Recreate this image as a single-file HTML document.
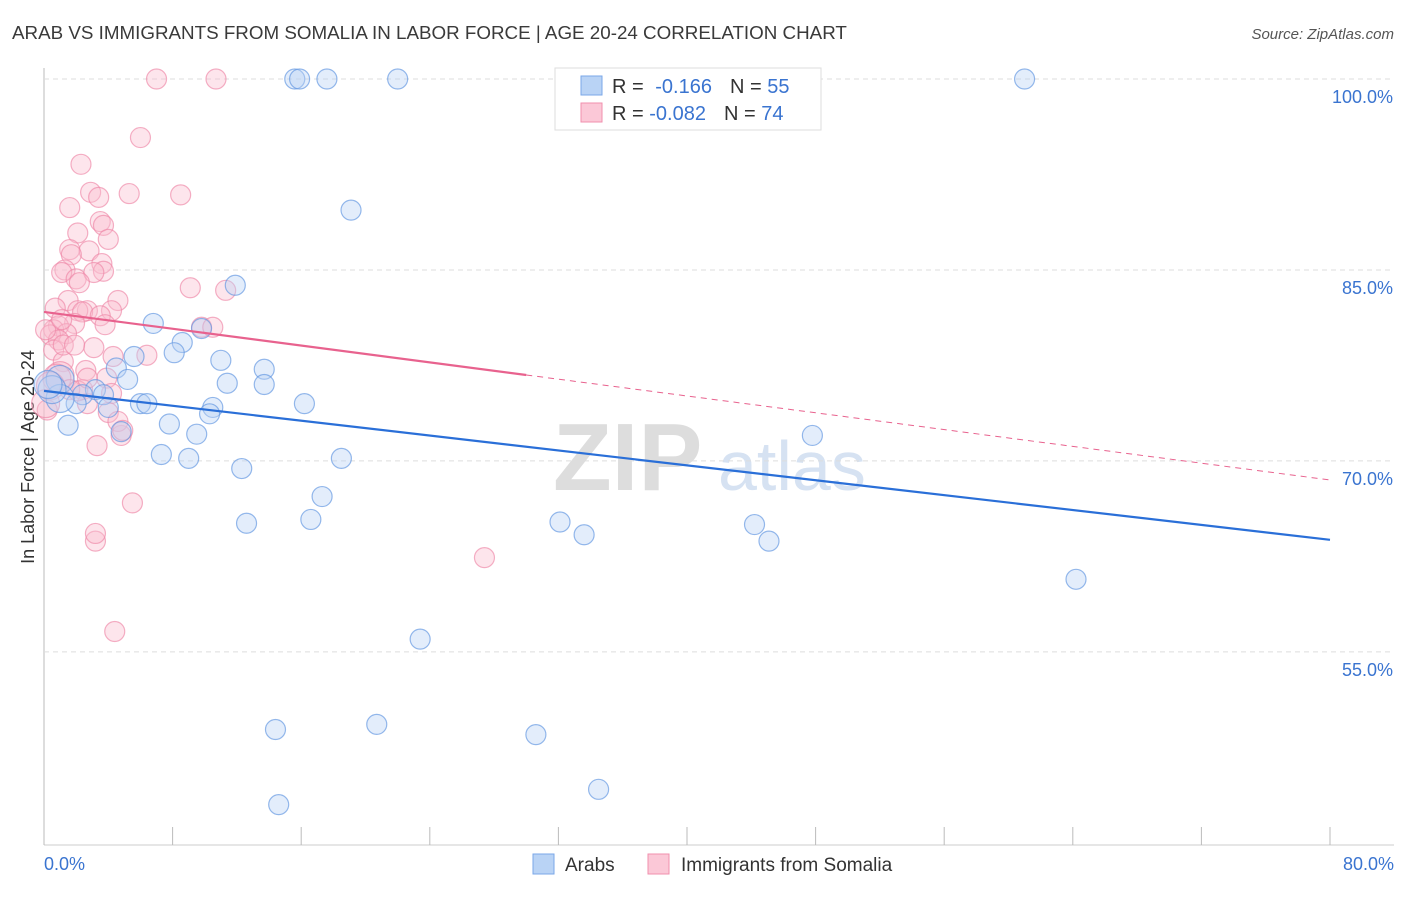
<!DOCTYPE html>
<html><head><meta charset="utf-8"><style>
body{margin:0;background:#fff;font-family:"Liberation Sans",sans-serif}
svg text{font-family:"Liberation Sans",sans-serif}
</style></head><body>
<svg id="c" width="1406" height="892">
<text x="12" y="39" font-size="18.8" fill="#3a3a3a">ARAB VS IMMIGRANTS FROM SOMALIA IN LABOR FORCE | AGE 20-24 CORRELATION CHART</text>
<text x="1394" y="39" font-size="15" fill="#555" text-anchor="end" font-style="italic">Source: ZipAtlas.com</text>
<text x="34" y="457" font-size="18" fill="#333" text-anchor="middle" transform="rotate(-90 34 457)">In Labor Force | Age 20-24</text>
<g><text x="553" y="490" font-size="96" fill="#ddd" font-family="Liberation Serif" font-weight="bold">ZIP</text><text x="718" y="490" font-size="70" fill="#d6e2f2">atlas</text></g>
<g id="grid"></g><g id="marks"></g><g id="lines"></g>
<g>
<rect x="555" y="68" width="266" height="62" fill="#fff" stroke="#ddd"/>
<rect x="581" y="76" width="21" height="19" fill="#b9d3f5" stroke="#7aa7e8"/>
<rect x="581" y="103" width="21" height="19" fill="#fbc8d7" stroke="#f08fae"/>
<text x="612" y="93" font-size="20" fill="#333">R = <tspan fill="#3a74d0" dx="6">-0.166</tspan><tspan dx="18" fill="#333">N = </tspan><tspan fill="#3a74d0">55</tspan></text>
<text x="612" y="120" font-size="20" fill="#333">R = <tspan fill="#3a74d0">-0.082</tspan><tspan dx="18" fill="#333">N = </tspan><tspan fill="#3a74d0"> 74</tspan></text>
</g>
<g>
<rect x="533" y="854" width="21" height="20" fill="#b9d3f5" stroke="#7aa7e8"/>
<text x="565" y="871" font-size="19" fill="#333">Arabs</text>
<rect x="648" y="854" width="21" height="20" fill="#fbc8d7" stroke="#f08fae"/>
<text x="681" y="871" font-size="19" fill="#333">Immigrants from Somalia</text>
</g>
</svg>
<script>
const yTicks=[100,85,70,55];
const yTickLabels=["100.0%","85.0%","70.0%","55.0%"];
const xTickVals=[0,8,16,24,32,40,48,56,64,72,80];
const blueX=[15.6,15.9,17.6,22.0,61.0,19.1,11.9,6.8,9.8,8.6,8.1,5.6,11.0,4.5,13.7,5.2,11.4,13.7,1.0,3.2,2.4,3.7,2.0,6.0,6.4,4.0,16.2,10.5,10.3,1.0,1.5,4.8,7.8,9.5,47.8,7.3,9.0,18.5,12.3,17.3,12.6,16.6,32.1,33.6,44.2,45.1,64.2,23.4,14.4,20.7,30.6,14.6,34.5,0.5,0.25];
const blueY=[100,100,100,100,100,89.7,83.8,80.8,80.4,79.3,78.5,78.2,77.9,77.3,77.2,76.4,76.1,76.0,76.4,75.6,75.2,75.2,74.5,74.5,74.5,74.2,74.5,74.2,73.7,74.9,72.8,72.3,72.9,72.1,72.0,70.5,70.2,70.2,69.4,67.2,65.1,65.4,65.2,64.2,65.0,63.7,60.7,56.0,48.9,49.3,48.5,43.0,44.2,75.6,76.0];
const pinkX=[7.0,10.7,6.0,2.3,2.9,5.3,8.5,1.6,3.4,3.5,3.7,2.1,4.0,2.8,1.6,1.7,3.6,1.3,1.1,2.0,3.7,3.1,2.2,9.1,11.3,4.6,1.5,0.7,2.7,2.1,2.4,4.2,3.5,1.9,0.9,0.6,9.8,10.5,3.8,1.4,0.4,0.9,3.1,0.6,4.3,6.4,1.2,2.6,1.0,0.8,3.9,0.4,2.4,4.2,2.7,4.0,0.2,4.8,3.3,4.6,5.5,3.2,3.2,27.4,4.4,1.6,2.1,0.1,1.2,0.1,1.1,2.7,1.9,4.9];
const pinkY=[100,100,95.4,93.3,91.1,91.0,90.9,89.9,90.7,88.8,88.5,87.9,87.4,86.5,86.6,86.2,85.5,85.0,84.8,84.3,84.9,84.8,84.0,83.6,83.4,82.6,82.6,82.0,81.8,81.8,81.7,81.8,81.4,80.8,80.6,80.3,80.5,80.5,80.7,80.0,79.9,79.5,78.9,78.7,78.2,78.3,77.8,77.1,76.7,76.5,76.5,75.9,75.6,75.3,74.5,73.8,74.0,72.0,71.2,73.1,66.7,63.7,64.3,62.4,56.6,75.6,75.5,74.5,79.1,80.3,81.1,76.5,79.1,72.4];
const blueTrend=[75.5,63.8];
const pinkTrend=[81.7,68.5];
const pinkSolidEnd=30;
const X0=44,X1=1330,Y100=79,PXPER=12.73;
const sx=v=>X0+(X1-X0)*v/80;
const sy=v=>Y100+(100-v)*PXPER;
const NS="http://www.w3.org/2000/svg";
function mk(t,a,p){const e=document.createElementNS(NS,t);for(const k in a)e.setAttribute(k,a[k]);p.appendChild(e);return e;}
const grid=document.getElementById('grid'),marks=document.getElementById('marks'),lines=document.getElementById('lines');
let ax=mk('line',{x1:44,y1:68,x2:44,y2:845,stroke:'#bbb'},grid);


let bx=mk('line',{x1:44,y1:845,x2:1394,y2:845,stroke:'#ccc'},grid);


yTicks.forEach((v,i)=>{
 const g=mk('line',{x1:44,x2:1394,y1:sy(v),y2:sy(v),stroke:'#ddd','stroke-dasharray':'5,4'},grid);
 
 
 const t=mk('text',{x:1393,y:sy(v)+24,'font-size':18,fill:'#3a74d0','text-anchor':'end'},grid);
 t.textContent=yTickLabels[i];
 
 
});
xTickVals.forEach(v=>{
 const l=mk('line',{x1:sx(v),x2:sx(v),y1:827,y2:845,stroke:'#bbb'},grid);
 
 
});
[["0.0%",44,"start"],["80.0%",1394,"end"]].forEach(d=>{
 const t=mk('text',{x:d[1],y:870,'font-size':18,fill:'#3a74d0','text-anchor':d[2]},grid);
 t.textContent=d[0];
 
 
});
function pts(X,Y,fill,stroke,name){
 X.forEach((x,i)=>{
  const big=(x<1.2&&Y[i]>74&&Y[i]<77);
  const c=mk('circle',{cx:sx(x),cy:sy(Y[i]),r:big?14:10,fill:fill,'fill-opacity':0.4,stroke:stroke,'stroke-opacity':0.65,'stroke-width':1.2},marks);
  
  
 });
}
pts(pinkX,pinkY,'#f9bfd0','#ee85a6','somalia-point');
pts(blueX,blueY,'#b9d3f5','#5d93e0','arab-point');
let bl=mk('line',{x1:sx(0),y1:sy(blueTrend[0]),x2:sx(80),y2:sy(blueTrend[1]),stroke:'#2a6fd8','stroke-width':2.2},lines);


const pAt=x=>pinkTrend[0]+(pinkTrend[1]-pinkTrend[0])*x/80;
let pl=mk('line',{x1:sx(0),y1:sy(pinkTrend[0]),x2:sx(pinkSolidEnd),y2:sy(pAt(pinkSolidEnd)),stroke:'#e8628e','stroke-width':2.2},lines);


let pd=mk('line',{x1:sx(pinkSolidEnd),y1:sy(pAt(pinkSolidEnd)),x2:sx(80),y2:sy(pinkTrend[1]),stroke:'#e8628e','stroke-width':1,'stroke-dasharray':'6,5'},lines);


</script>
</body></html>
